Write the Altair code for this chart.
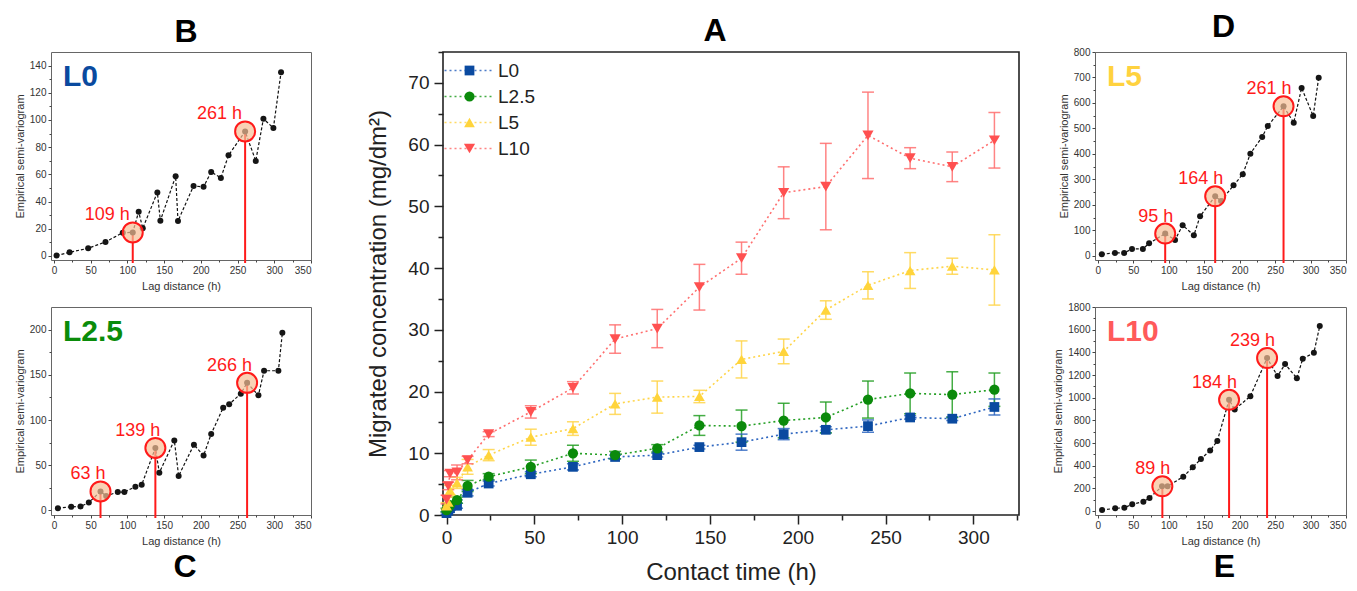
import altair as alt
import pandas as pd

FONT = "Liberation Sans"

# ---------------- Panel A: migration kinetics ----------------
times = [0, 1, 2, 6, 12, 24, 48, 72, 96, 120, 144, 168, 192, 216, 240, 264, 288, 312]
series = ["L0", "L2.5", "L5", "L10"]

conc_L0 = [0.3, 0.7, 1.1, 1.5, 3.6, 5.1, 6.6, 7.8, 9.4, 9.7, 11.0, 11.8, 13.1, 13.8, 14.4, 15.8, 15.6, 17.5]
err_L0 = [0.2, 0.3, 0.3, 0.4, 0.5, 0.4, 0.4, 0.5, 0.3, 0.3, 0.3, 1.3, 0.9, 0.5, 1.0, 0.3, 0.3, 1.3]
conc_L25 = [0.8, 1.2, 1.6, 2.4, 4.7, 6.2, 7.8, 10.0, 9.7, 10.8, 14.5, 14.4, 15.3, 15.8, 18.7, 19.7, 19.5, 20.3]
err_L25 = [0.3, 0.4, 0.4, 0.5, 0.9, 0.5, 1.1, 1.3, 0.6, 0.6, 1.6, 2.6, 2.8, 2.5, 3.0, 3.3, 3.7, 2.7]
conc_L5 = [1.5, 2.1, 4.0, 5.2, 7.8, 9.7, 12.6, 14.0, 18.0, 19.1, 19.2, 25.2, 26.5, 33.2, 37.2, 39.6, 40.3, 39.7]
err_L5 = [0.5, 0.8, 0.8, 0.9, 1.2, 0.9, 1.3, 1.1, 1.7, 2.6, 1.0, 3.0, 2.0, 1.5, 2.2, 2.9, 1.3, 5.7]
conc_L10 = [2.5, 4.7, 6.7, 6.9, 8.9, 13.1, 16.7, 20.6, 28.5, 30.2, 36.9, 41.6, 52.2, 53.2, 61.5, 57.8, 56.4, 60.7]
err_L10 = [0.7, 0.6, 0.5, 1.2, 0.6, 0.4, 1.0, 1.0, 2.3, 3.1, 3.7, 2.6, 4.2, 7.0, 7.0, 1.7, 2.4, 4.5]

A_major_x = [0, 50, 100, 150, 200, 250, 300]
A_minor_x = [25, 75, 125, 175, 225, 275, 325]
A_major_y = [0, 10, 20, 30, 40, 50, 60, 70]
A_minor_y = [5, 15, 25, 35, 45, 55, 65, 75]

# ---------------- Variogram panels ----------------
B_lag = [3.6, 21.3, 46.6, 70.2, 93.7, 107.3, 115.4, 120.9, 140.8, 144.9, 165.7, 168.9, 190.1, 203.7, 214.1,
         227.3, 237.7, 260.3, 274.8, 285.2, 298.8, 309.2]
B_gam = [0.3, 2.7, 5.6, 10.3, 17.1, 17.3, 32.5, 20.3, 46.7, 25.9, 58.6, 25.7, 51.5, 50.8, 61.8,
         57.4, 74.0, 91.6, 69.9, 100.9, 94.1, 135.1]
B_ann_x = [107.3, 260.3]
B_ann_y = [17.3, 91.6]
B_ann_txt = ["109 h", "261 h"]

C_lag = [5.4, 23.5, 36.2, 47.5, 63.4, 71.1, 86.9, 95.9, 110.9, 119.5, 138.1, 143.5, 163.9, 169.8, 190.6,
         203.7, 214.1, 230.4, 238.6, 254.4, 263.0, 278.4, 286.1, 305.6, 311.0]
C_gam = [2.5, 4.0, 4.4, 8.7, 21.1, 16.0, 20.4, 20.4, 26.2, 28.4, 69.1, 41.8, 77.5, 38.2, 72.7,
         60.7, 84.7, 113.5, 117.5, 129.1, 141.1, 127.3, 154.5, 154.5, 196.4]
C_ann_x = [63.4, 138.1, 263.0]
C_ann_y = [21.1, 69.1, 141.1]
C_ann_txt = ["63 h", "139 h", "266 h"]

D_lag = [5.6, 24.1, 37.1, 48.2, 63.5, 72.3, 95.0, 108.9, 119.6, 135.4, 144.2, 165.5, 173.8, 191.4, 204.4,
         215.1, 231.8, 239.7, 261.9, 276.3, 287.4, 303.7, 311.5]
D_gam = [6.5, 11.8, 11.8, 27.5, 27.5, 49.7, 87.6, 62.7, 120.3, 81.0, 155.6, 234.0, 215.7, 277.1, 320.3,
         401.3, 466.7, 509.8, 586.9, 522.9, 658.8, 549.0, 699.3]
D_ann_x = [95.0, 165.5, 261.9]
D_ann_y = [87.6, 234.0, 586.9]
D_ann_txt = ["95 h", "164 h", "261 h"]

E_lag = [6.0, 24.5, 37.4, 48.5, 64.2, 72.9, 90.5, 98.3, 120.5, 133.9, 145.4, 158.4, 168.5, 185.1, 193.0,
         215.1, 238.7, 253.5, 264.1, 280.7, 289.0, 304.7, 313.0]
E_gam = [8.8, 23.6, 29.5, 58.9, 82.5, 114.9, 218.0, 218.0, 303.4, 385.9, 459.6, 533.2, 618.7, 981.0, 895.6,
         1013.4, 1349.3, 1190.2, 1296.2, 1172.5, 1343.4, 1396.4, 1632.0]
E_ann_x = [91.0, 185.1, 238.7]
E_ann_y = [218.0, 981.0, 1349.3]
E_ann_txt = ["89 h", "184 h", "239 h"]

lag_major = [0, 50, 100, 150, 200, 250, 300, 350]
lag_minor = [25, 75, 125, 175, 225, 275, 325]

marker_colors = ["#0a4aa0", "#0b8a0b", "#ffd43b", "#ff5050"]
line_colors = ["#2e66c0", "#249f24", "#ffd54a", "#ff6f6f"]
shapes = ["square", "circle", "triangle-up", "triangle-down"]
name_colors = {"L0": "#0a4a9f", "L2.5": "#0a8c0a", "L5": "#ffd23f", "L10": "#ff5a5a"}


def letter_title(txt, bottom=False, dx=0):
    kw = dict(text=txt, font=FONT, fontSize=32, fontWeight="bold", color="black", anchor="middle", dx=dx)
    if bottom:
        kw.update(orient="bottom", offset=6)
    else:
        kw.update(offset=3)
    return alt.TitleParams(**kw)


# ---------- Panel A ----------
rows = []
for name, vals, errs in zip(series, [conc_L0, conc_L25, conc_L5, conc_L10], [err_L0, err_L25, err_L5, err_L10]):
    for t, v, e in zip(times, vals, errs):
        rows.append({"t": t, "v": v, "lo": v - e, "hi": v + e, "s": name, "sl": name + " line"})
dfA = pd.DataFrame(rows)
line_domain = [n + " line" for n in series]

xA = alt.Scale(domain=[-2, 326], nice=False, zero=False)
yA = alt.Scale(domain=[0, 75], nice=False, zero=False)

axA_common = dict(labelFont=FONT, labelFontSize=19, labelColor="#222", titleFont=FONT, titleFontWeight="normal",
                  titleColor="#222", tickColor="#222", tickWidth=1.5, domain=False, grid=False)
X_major = alt.X("t:Q", scale=xA, axis=alt.Axis(values=A_major_x, title="Contact time (h)", orient="bottom",
                                                 titleFontSize=24, tickSize=9, labelPadding=4, titlePadding=13,
                                                 **axA_common))
X_minor = alt.X("t:Q", scale=xA, axis=alt.Axis(values=A_minor_x, labels=False, title=None, orient="bottom",
                                                 tickSize=5, tickWidth=1.5, tickColor="#222", domain=False,
                                                 grid=False))
Y_major = alt.Y("v:Q", scale=yA, axis=alt.Axis(values=A_major_y, title="Migrated concentration (mg/dm²)",
                                                 orient="left", titleFontSize=24, tickSize=9, labelPadding=5,
                                                 titlePadding=17, **axA_common))
Y_minor = alt.Y("v:Q", scale=yA, axis=alt.Axis(values=A_minor_y, labels=False, title=None, orient="left",
                                                 tickSize=5, tickWidth=1.5, tickColor="#222", domain=False,
                                                 grid=False))
X_n = alt.X("t:Q", scale=xA, axis=None)
Y_n = alt.Y("v:Q", scale=yA, axis=None)

stroke_legend = alt.Legend(orient="top-left", offset=9, title=None, padding=0, symbolType="M-5,0H5",
                           symbolSize=100, symbolDash=[2, 3], symbolStrokeWidth=1.6, symbolOffset=8,
                           labelFont=FONT, labelFontSize=19, labelExpr="' '", labelOffset=19, rowPadding=6,
                           zindex=0)
pt_legend = alt.Legend(orient="none", legendX=17, legendY=9, title=None, padding=0, symbolSize=110,
                       symbolStrokeWidth=0, labelFont=FONT, labelFontSize=19,
                       labelColor="#222", labelOffset=19, rowPadding=6, zindex=1)
stroke_enc = alt.Stroke("sl:N", scale=alt.Scale(domain=line_domain, range=line_colors), legend=stroke_legend)

baseA = alt.Chart(dfA)
linesA = baseA.mark_line(strokeDash=[2, 3], strokeWidth=1.6).encode(x=X_n, y=Y_n, stroke=stroke_enc)
barsA = baseA.mark_rule(strokeWidth=1.5, opacity=0.85).encode(
    x=X_n, y=alt.Y("lo:Q", scale=yA, axis=None), y2="hi:Q", stroke=stroke_enc)
capHi = baseA.mark_rule(strokeWidth=1.5, opacity=0.85, xOffset=-6, x2Offset=6).encode(
    x=X_n, x2="t:Q", y=alt.Y("hi:Q", scale=yA, axis=None), stroke=stroke_enc)
capLo = baseA.mark_rule(strokeWidth=1.5, opacity=0.85, xOffset=-6, x2Offset=6).encode(
    x=X_n, x2="t:Q", y=alt.Y("lo:Q", scale=yA, axis=None), stroke=stroke_enc)
ptsA = baseA.mark_point(filled=True, opacity=1).encode(
    x=X_major, y=Y_major,
    color=alt.Color("s:N", scale=alt.Scale(domain=series, range=marker_colors), legend=pt_legend),
    shape=alt.Shape("s:N", scale=alt.Scale(domain=series, range=shapes), legend=pt_legend),
    size=alt.Size("s:N", scale=alt.Scale(domain=series, range=[95, 125, 180, 180]), legend=None),
)
minorA = baseA.mark_point(opacity=0).encode(x=X_minor, y=Y_minor)

chartA = alt.layer(linesA, barsA, capHi, capLo, ptsA, minorA).resolve_axis(
    x="independent", y="independent").properties(
    width=576, height=463, view=alt.ViewBackground(stroke="#222", strokeWidth=1.6),
    title=letter_title("A", dx=-16))


# ---------- Variogram panel factory ----------
def variogram(lag, gam, ax_, ay_, atxt, ydom, ymaj, ymin, name, letter, bottom, w, h, flush, tdx, ldx):
    df = pd.DataFrame({"lag": lag, "gamma": gam})
    dfa = pd.DataFrame({"lag": ax_, "gamma": ay_, "label": atxt})
    dfn = pd.DataFrame({"name": [name]})
    xs = alt.Scale(domain=[-4, 350], nice=False, zero=False)
    ys = alt.Scale(domain=ydom, nice=False, zero=False)
    common = dict(labelFont=FONT, labelFontSize=10, labelColor="#333", titleFont=FONT, titleFontSize=11,
                  titleFontWeight="normal", titleColor="#333", tickColor="#444", tickWidth=1,
                  domain=False, grid=False)
    xkw = dict(values=lag_major, title="Lag distance (h)", orient="bottom", tickSize=3, labelPadding=2,
               titlePadding=5, format="d", **common)
    if flush:
        xkw["labelFlush"] = 1
    Xm = alt.X("lag:Q", scale=xs, axis=alt.Axis(**xkw))
    Xn = alt.X("lag:Q", scale=xs, axis=alt.Axis(values=lag_minor, labels=False, title=None, orient="bottom",
                                               tickSize=2, tickColor="#444", domain=False, grid=False))
    Ym = alt.Y("gamma:Q", scale=ys, axis=alt.Axis(values=ymaj, title="Empirical semi-variogram", orient="left",
                                                 tickSize=3, labelPadding=2, titlePadding=4, format="d",
                                                 **common))
    Yn = alt.Y("gamma:Q", scale=ys, axis=alt.Axis(values=ymin, labels=False, title=None, orient="left",
                                                 tickSize=2, tickColor="#444", domain=False, grid=False))
    X0 = alt.X("lag:Q", scale=xs, axis=None)
    Y0 = alt.Y("gamma:Q", scale=ys, axis=None)

    line = alt.Chart(df).mark_line(color="#111", strokeDash=[3, 2], strokeWidth=1.2).encode(x=X0, y=Y0)
    rules = alt.Chart(dfa).mark_rule(color="#ff1a1a", strokeWidth=2).encode(x=X0, y=Y0, y2=alt.value(h + 3))
    pts = alt.Chart(df).mark_circle(size=36, color="#151515", opacity=1).encode(x=Xm, y=Ym)
    circ = alt.Chart(dfa).mark_point(shape="circle", size=400, filled=True, fill="#f7bf95", fillOpacity=0.7,
                                     stroke="#ff1a1a", strokeWidth=2, strokeOpacity=1, opacity=1).encode(x=X0, y=Y0)
    txt = alt.Chart(dfa).mark_text(color="#ff1a1a", font=FONT, fontSize=18, align="right",
                                   baseline="alphabetic", dx=ldx, dy=-12).encode(x=X0, y=Y0, text="label:N")
    nm = alt.Chart(dfn).mark_text(font=FONT, fontSize=30, fontWeight="bold", color=name_colors[name],
                                  align="left", baseline="middle").encode(
        x=alt.value(12), y=alt.value(25), text="name:N")
    minor = alt.Chart(df).mark_point(opacity=0).encode(x=Xn, y=Yn)
    return alt.layer(line, rules, pts, circ, txt, nm, minor).resolve_axis(
        x="independent", y="independent").properties(
        width=w, height=h, view=alt.ViewBackground(stroke="#666", strokeWidth=1),
        title=letter_title(letter, bottom=bottom, dx=tdx))


chartB = variogram(B_lag, B_gam, B_ann_x, B_ann_y, B_ann_txt, [-3, 150], [0, 20, 40, 60, 80, 100, 120, 140],
                   [10, 30, 50, 70, 90, 110, 130], "L0", "B", False, 260, 208, False, 5, -3)
chartC = variogram(C_lag, C_gam, C_ann_x, C_ann_y, C_ann_txt, [-5, 225], [0, 50, 100, 150, 200],
                   [25, 75, 125, 175], "L2.5", "C", True, 260, 208, False, 4, 5)
chartD = variogram(D_lag, D_gam, D_ann_x, D_ann_y, D_ann_txt, [-16, 800], [0, 100, 200, 300, 400, 500, 600, 700, 800],
                   [50, 150, 250, 350, 450, 550, 650, 750], "L5", "D", False, 251, 208, True, 3, 8)
chartE = variogram(E_lag, E_gam, E_ann_x, E_ann_y, E_ann_txt, [-35, 1800],
                   [0, 200, 400, 600, 800, 1000, 1200, 1400, 1600, 1800],
                   [100, 300, 500, 700, 900, 1100, 1300, 1500, 1700], "L10", "E", True, 251, 208, True, 4, 8)

indep = dict(color="independent", stroke="independent", shape="independent", size="independent")
left = alt.vconcat(chartB, chartC, spacing=47, bounds="flush")
right = alt.vconcat(chartD, chartE, spacing=47, bounds="flush")
inner = alt.hconcat(left, chartA, spacing=54).resolve_scale(**indep)
chart = alt.hconcat(inner, right, spacing=32).resolve_scale(**indep).properties(
    padding={"left": 5, "top": 2, "right": 0, "bottom": 0}
).configure(font=FONT).configure_axis(grid=False)

chart.save("out.html", embed_options={"renderer": "svg", "actions": False})
